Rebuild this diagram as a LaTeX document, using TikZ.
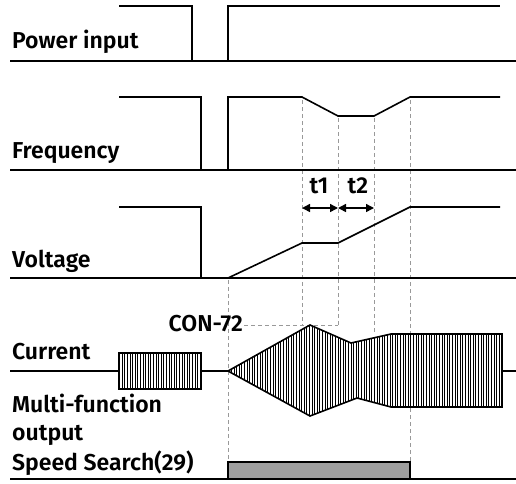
\documentclass[tikz,border=0pt]{standalone}
\usepackage{fontspec}
\setmainfont{Fira Sans SemiBold}
\usetikzlibrary{arrows.meta,patterns.meta}
\begin{document}
\begin{tikzpicture}[x=1pt,y=-1pt,
  sig/.style={line width=1.6pt,line join=miter},
  guide/.style={gray!80,line width=0.9pt,dash pattern=on 4pt off 3pt},
  lbl/.style={anchor=base west,inner sep=0pt,font=\fontsize{23}{24}\selectfont},
  hatch/.style={sig,fill=white,postaction={pattern={Lines[angle=90,distance=2.6pt,line width=0.7pt]}}},
  dim/.style={line width=1.5pt,{Triangle[length=8pt,width=8pt]}-{Triangle[length=8pt,width=8pt]}}]
\useasboundingbox (0,0) rectangle (516,483);
% guides
\draw[guide] (302,100) -- (302,325);
\draw[guide] (338,118) -- (338,325);
\draw[guide] (374,118) -- (374,333);
\draw[guide] (410,100) -- (410,462);
\draw[guide] (228,280) -- (228,462);
\draw[guide] (244,325) -- (338,325);
% power input
\draw[sig] (10,61) -- (516,61);
\draw[sig] (119,6) -- (192,6) -- (192,61);
\draw[sig] (228,61) -- (228,6) -- (500,6);
% frequency
\draw[sig] (10,170) -- (516,170);
\draw[sig] (119,97) -- (201,97) -- (201,170);
\draw[sig] (228,170) -- (228,97) -- (302,97) -- (338,116) -- (374,116) -- (410,97) -- (500,97);
% voltage
\draw[sig] (10,278) -- (516,278);
\draw[sig] (119,207) -- (201,207) -- (201,278);
\draw[sig] (228,278) -- (302,243) -- (338,243) -- (410,207) -- (500,207);
% t1 t2
\draw[dim] (302,208) -- (338,208);
\draw[dim] (338,208) -- (374,208);
\node[anchor=base,inner sep=0pt,font=\fontsize{23}{24}\selectfont] (t1) at (319,193) {t1};
\node[anchor=base,inner sep=0pt,font=\fontsize{23}{24}\selectfont] (t2) at (358,193) {t2};
% current
\draw[sig] (10,371) -- (119,371);
\draw[sig] (201,371) -- (228,371);
\draw[sig] (502,371) -- (516,371);
\draw[hatch] (119,353) rectangle (201,389);
\draw[hatch] (228,371) -- (310,325) -- (351,343) -- (391,334) -- (502,334) -- (502,407) -- (391,407) -- (357,398) -- (310,416) -- cycle;
% speed search bar
\draw[sig] (10,479) -- (516,479);
\draw[sig,fill=gray!75] (228,479) rectangle (410,462);
% labels
\node[lbl] (pw) at (12,48) {Power input};
\node[lbl] (fr) at (12,158) {Frequency};
\node[lbl] (vo) at (12,267) {Voltage};
\node[lbl,anchor=base east] (con) at (243,331) {CON-72};
\node[lbl] (cu) at (12,359) {Current};
\node[lbl] (mf) at (12,412) {Multi-function};
\node[lbl] (op) at (12,440) {output};
\node[lbl] (ss) at (12,470) {Speed Search(29)};
\end{tikzpicture}
\end{document}
